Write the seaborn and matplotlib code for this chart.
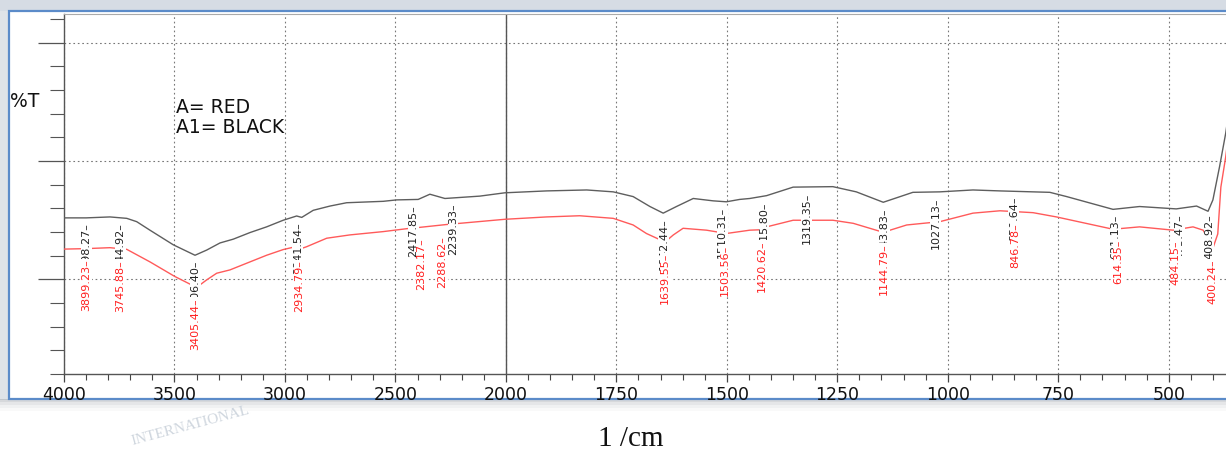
import numpy as np
import pandas as pd
import matplotlib
matplotlib.use("Agg")
import matplotlib.pyplot as plt
import seaborn as sns
from matplotlib.patches import Rectangle
from matplotlib.ticker import FixedLocator

# A1 spectrum (black): wavenumber 1/cm, %T
black_wn = [4000, 3900, 3792, 3716, 3671, 3611, 3505, 3407, 3354, 3294, 3234, 3158, 3083,
            3008, 2947, 2924, 2872, 2796, 2721, 2555, 2495, 2397, 2344, 2276, 2118, 2005,
            1908, 1817, 1757, 1712, 1674, 1644, 1614, 1576, 1531, 1501, 1471, 1448, 1410,
            1350, 1260, 1207, 1146, 1079, 1018, 943, 882, 807, 769, 731, 626, 566, 483,
            437, 411, 400, 385, 371, 360]
black_t = [33.0, 33.0, 33.2, 32.9, 32.2, 30.4, 27.3, 25.1, 26.2, 27.7, 28.5, 29.9, 31.1,
           32.5, 33.4, 33.1, 34.6, 35.5, 36.2, 36.5, 36.8, 36.9, 38.0, 37.1, 37.6, 38.3,
           38.7, 38.9, 38.5, 37.5, 35.4, 34.0, 35.4, 37.1, 36.6, 36.4, 36.9, 37.1, 37.7,
           39.5, 39.6, 38.5, 36.3, 38.4, 38.5, 38.9, 38.7, 38.5, 38.4, 37.5, 34.8, 35.4, 34.9,
           35.5, 34.4, 36.8, 43.8, 50.9, 58.0]

# A spectrum (red)
red_wn = [4000, 3900, 3792, 3716, 3611, 3498, 3400, 3354, 3309, 3249, 3158, 3083, 3008,
          2962, 2940, 2902, 2811, 2706, 2555, 2434, 2389, 2268, 2005, 1908, 1833, 1757,
          1712, 1682, 1640, 1621, 1599, 1546, 1501, 1448, 1420, 1410, 1350, 1260, 1214,
          1146, 1093, 1018, 943, 882, 807, 754, 626, 566, 490, 445, 422, 400, 389, 382,
          371, 360]
red_t = [26.4, 26.5, 26.7, 26.35, 23.7, 20.6, 18.3, 19.9, 21.3, 22.0, 23.7, 25.1, 26.3,
         26.8, 26.3, 26.9, 28.7, 29.4, 30.1, 30.8, 31.0, 31.6, 32.7, 33.2, 33.45, 32.9,
         31.5, 29.7, 27.9, 29.4, 30.8, 30.4, 29.7, 30.4, 30.5, 31.1, 32.5, 32.5, 31.85,
         29.95, 31.5, 32.2, 34.0, 34.5, 34.1, 33.2, 30.6, 31.1, 30.4, 31.1, 30.4, 26.6,
         29.6, 39.5, 45.9, 54.0]

black_peaks = [3898.27, 3744.92, 3406.40, 2941.54, 2417.85, 2239.33, 1642.44, 1510.31,
               1415.80, 1319.35, 1143.83, 1027.13, 850.64, 621.13, 475.47, 408.92]
red_peaks = [3899.23, 3745.88, 3405.44, 2934.79, 2382.17, 2288.62, 1639.55, 1503.56,
             1420.62, 1144.79, 846.78, 614.35, 484.15, 400.24]

x_major = [4000, 3500, 3000, 2500, 2000, 1750, 1500, 1250, 1000, 750, 500]
x_minor = [v for v in range(3900, 2000, -100) if v % 500] + \
          [v for v in range(1950, 350, -50) if v % 250]
y_major = [20, 45, 70]
y_minor = list(range(0, 80, 5))


# spectrometer axis: 4000-2000 drawn at half the scale of 2000-400
def fwd(x):
    x = np.asarray(x, dtype=float)
    return np.where(x > 2000, 2000 + (x - 2000) / 2, x)


def inv(u):
    u = np.asarray(u, dtype=float)
    return np.where(u > 2000, 2000 + (u - 2000) * 2, u)


sns.set_theme(style="white")
plt.rcParams['font.family'] = ['DejaVu Sans']

W, H = 1226, 450
fig = plt.figure(figsize=(W / 100, H / 100), dpi=100)
fig.patch.set_facecolor('white')

# window decoration around the plot
fig.patches.append(Rectangle((0, 1 - 11 / H), 1, 11 / H, transform=fig.transFigure,
                             facecolor='#d6dce4', edgecolor='none', zorder=-2))
fig.patches.append(Rectangle((0, 1 - 400 / H), 9 / W, 389 / H, transform=fig.transFigure,
                             facecolor='#dfe3e8', edgecolor='none', zorder=-2))
for i, a in enumerate([0.35, 0.22, 0.12, 0.05]):
    fig.patches.append(Rectangle((0, 1 - (402 + 3 * i) / H), 1, 3 / H, transform=fig.transFigure,
                                 facecolor='#8a9099', alpha=a, edgecolor='none', zorder=-2))
fig.patches.append(Rectangle((9 / W, 1 - 399 / H), 1.02, 388 / H, transform=fig.transFigure,
                             facecolor='white', edgecolor='#5b8bc9', lw=1.6, zorder=-1))
fig.text(190 / W, 1 - 426 / H, 'INTERNATIONAL', family='Liberation Serif', fontsize=11,
         color='#cfd6de', rotation=15, ha='center', va='center', zorder=-1)

ax = fig.add_axes([64 / W, 1 - 374 / H, (1235 - 64) / W, (374 - 13.5) / H])
ax.set_facecolor('none')
ax.set_zorder(2)

df_black = pd.DataFrame({'wn': black_wn, 'T': black_t})
df_red = pd.DataFrame({'wn': red_wn, 'T': red_t})
sns.lineplot(data=df_black, x='wn', y='T', color='#5e5e5e', lw=1.0, sort=False,
             estimator=None, ax=ax, zorder=3)
sns.lineplot(data=df_red, x='wn', y='T', color='#ff5a5a', lw=1.0, sort=False,
             estimator=None, ax=ax, zorder=3)

ax.set_xscale('function', functions=(fwd, inv))
ax.set_xlim(4000, 350)
ax.set_ylim(0, 76.2)
ax.xaxis.set_major_locator(FixedLocator(x_major))
ax.xaxis.set_minor_locator(FixedLocator(x_minor))
ax.set_xticklabels([str(v) for v in x_major])
ax.yaxis.set_major_locator(FixedLocator(y_major))
ax.yaxis.set_minor_locator(FixedLocator(y_minor))
ax.set_yticklabels([])
ax.set_xlabel('')
ax.set_ylabel('')

ax.tick_params(axis='x', which='major', direction='out', length=6, width=0.9,
               color='#444444', labelsize=12.5, pad=3, labelcolor='#111111', bottom=True)
ax.tick_params(axis='x', which='minor', direction='out', length=4, width=0.8,
               color='#444444', bottom=True)
ax.tick_params(axis='y', which='major', direction='out', length=19, width=0.9,
               color='#555555', left=True)
ax.tick_params(axis='y', which='minor', direction='out', length=10, width=0.8,
               color='#555555', left=True)

ax.grid(which='major', linestyle=(0, (1.5, 2.5)), color='#777777', lw=0.8)
ax.axvline(2000, color='#555555', lw=1.0, zorder=1)

for side in ['left', 'bottom']:
    ax.spines[side].set_color('#555555')
    ax.spines[side].set_linewidth(1.0)
ax.spines['top'].set_color('#aaaaaa')
ax.spines['top'].set_linewidth(0.8)
ax.spines['right'].set_visible(False)

# peak labels, black first, red drawn over them
wb = np.array(black_wn[::-1], dtype=float)
tb = np.array(black_t[::-1], dtype=float)
wr = np.array(red_wn[::-1], dtype=float)
tr = np.array(red_t[::-1], dtype=float)
for p in black_peaks:
    ax.annotate(f"{p:.2f}\u2013", xy=(p, np.interp(p, wb, tb)), xytext=(0, -4),
                textcoords='offset points', rotation=90, ha='center', va='top',
                fontsize=8, color='#222222', zorder=4,
                bbox=dict(facecolor='white', edgecolor='none', pad=0.3))
for p in red_peaks:
    ax.annotate(f"{p:.2f}\u2013", xy=(p, np.interp(p, wr, tr)), xytext=(0, -8),
                textcoords='offset points', rotation=90, ha='center', va='top',
                fontsize=8, color='#ff2020', zorder=5,
                bbox=dict(facecolor='white', edgecolor='none', pad=0.3))

fig.text(10 / W, 1 - 101.5 / H, '%T', fontsize=13.5, color='#111111', ha='left', va='center')
fig.text(175.5 / W, 1 - 112.7 / H, 'A= RED', fontsize=13.5, color='#111111',
         ha='left', va='baseline')
fig.text(175.5 / W, 1 - 133.3 / H, 'A1= BLACK', fontsize=13.5, color='#111111',
         ha='left', va='baseline')
fig.text(631 / W, 1 - 439 / H, '1 /cm', family='Liberation Serif', fontsize=21,
         color='#111111', ha='center', va='center')

fig.savefig('out.png', dpi=100)
plt.close()
